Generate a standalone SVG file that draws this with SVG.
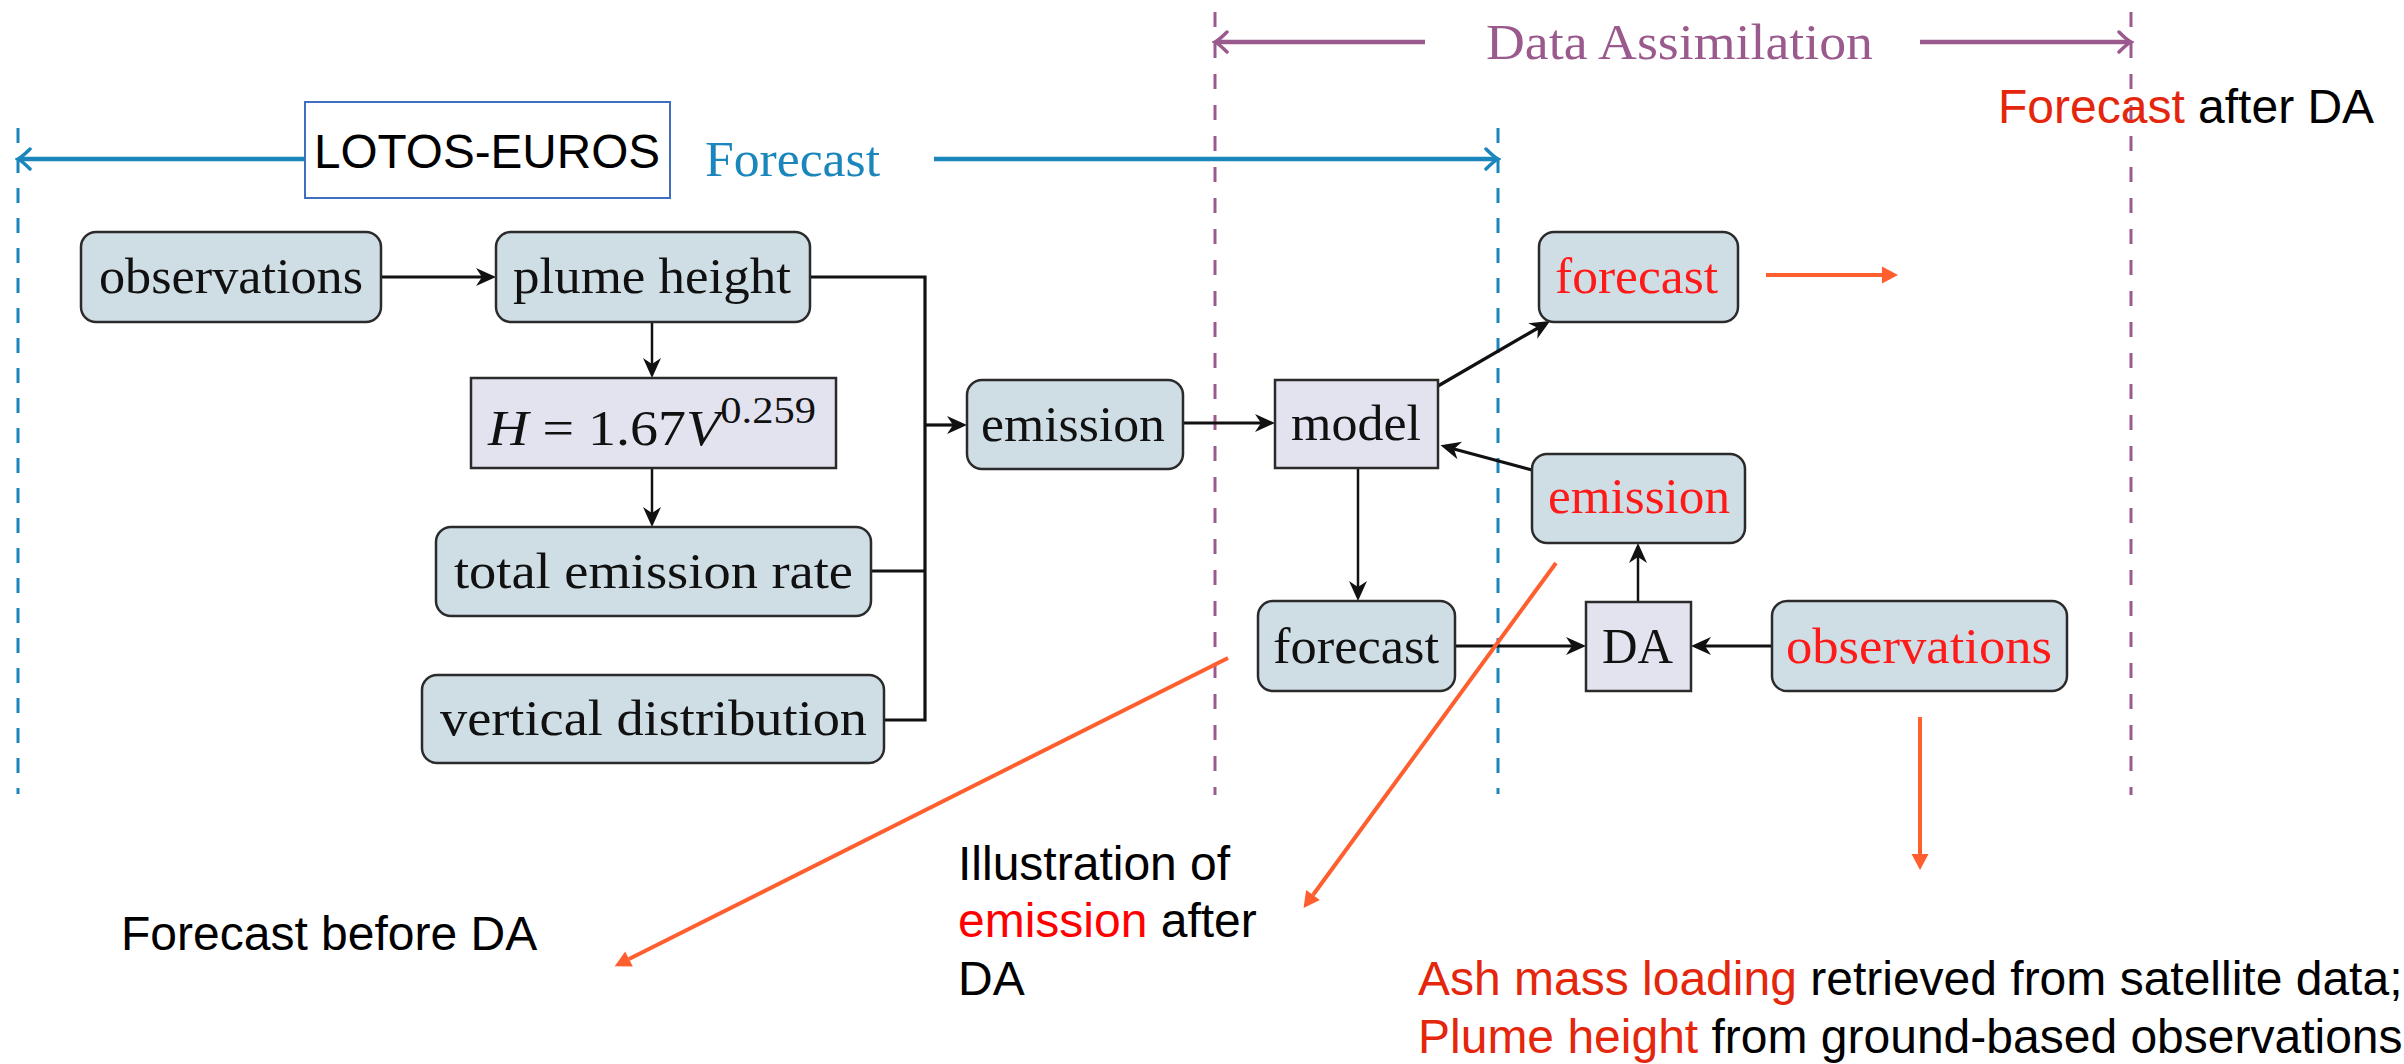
<svg xmlns="http://www.w3.org/2000/svg" width="2404" height="1064" viewBox="0 0 2404 1064">
<style>
.node{fill:#CFDDE5;stroke:#2b2b2b;stroke-width:2.5}
.lav{fill:#E3E3F0;stroke:#2b2b2b;stroke-width:2.5}
.lbl{font-family:"Liberation Serif","Times New Roman",serif;font-size:50px;fill:#111;text-anchor:start}
.red{fill:#FF1A1A}
.sans{font-family:"Liberation Sans",Arial,sans-serif;font-size:48px;fill:#000}
.ored{fill:#E3260C}
.conn{fill:none;stroke:#111;stroke-width:3.2}
.thin{fill:none;stroke:#111;stroke-width:2.5}
.orange{fill:none;stroke:#FF5F2E;stroke-width:4}
.bdash{stroke:#1A86BC;stroke-width:3;stroke-dasharray:15 15;fill:none}
.pdash{stroke:#9A5A8E;stroke-width:3;stroke-dasharray:15 16;fill:none}
</style>
<defs>
<marker id="toBlue" viewBox="-14 -12 18 24" refX="0" refY="0" markerWidth="18" markerHeight="24" markerUnits="userSpaceOnUse" orient="auto-start-reverse">
<path d="M-11,-10 Q-3,-2 1,0 Q-3,2 -11,10" fill="none" stroke="#1A86BC" stroke-width="3.5" stroke-linecap="round"/>
</marker>
<marker id="toPurple" viewBox="-14 -12 18 24" refX="0" refY="0" markerWidth="18" markerHeight="24" markerUnits="userSpaceOnUse" orient="auto-start-reverse">
<path d="M-11,-10 Q-3,-2 1,0 Q-3,2 -11,10" fill="none" stroke="#9A5A8E" stroke-width="3.5" stroke-linecap="round"/>
</marker>
<marker id="blk" viewBox="-7 -10 22 20" refX="0" refY="0" markerWidth="22" markerHeight="20" markerUnits="userSpaceOnUse" orient="auto">
<path d="M14,0 L-6,-9 L0,0 L-6,9 Z" fill="#111"/>
</marker>
<marker id="org" viewBox="-1 -10 18 20" refX="0" refY="0" markerWidth="18" markerHeight="20" markerUnits="userSpaceOnUse" orient="auto">
<path d="M0,-8.5 L16,0 L0,8.5 Z" fill="#FF5F2E"/>
</marker>
</defs>

<g id="guides">
<line class="bdash" x1="18" y1="128" x2="18" y2="794"/>
<line class="bdash" x1="1498" y1="128" x2="1498" y2="794"/>
<line class="pdash" x1="1215" y1="12" x2="1215" y2="795"/>
<line class="pdash" x1="2131" y1="12" x2="2131" y2="795"/>
<line x1="305" y1="159" x2="19" y2="159" stroke="#1A86BC" stroke-width="4.5" marker-end="url(#toBlue)"/>
<line x1="934" y1="159" x2="1497" y2="159" stroke="#1A86BC" stroke-width="4.5" marker-end="url(#toBlue)"/>
<line x1="1425" y1="42" x2="1216" y2="42" stroke="#9A5A8E" stroke-width="4.5" marker-end="url(#toPurple)"/>
<line x1="1920" y1="42" x2="2130" y2="42" stroke="#9A5A8E" stroke-width="4.5" marker-end="url(#toPurple)"/>
<text x="705" y="176" font-family="Liberation Serif, serif" font-size="50" fill="#1A86BC" textLength="175" lengthAdjust="spacingAndGlyphs">Forecast</text>
<text x="1486" y="59" font-family="Liberation Serif, serif" font-size="51" fill="#9A5A8E" textLength="387" lengthAdjust="spacingAndGlyphs">Data Assimilation</text>
</g>

<g id="lotos-euros">
<rect x="305" y="102" width="365" height="96" fill="#fff" stroke="#3F6FC0" stroke-width="2"/>
<text class="sans" x="314" y="168" textLength="346" lengthAdjust="spacingAndGlyphs">LOTOS-EUROS</text>
</g>

<g id="connectors">
<line class="conn" x1="381" y1="277" x2="482" y2="277" stroke-width="3.8" marker-end="url(#blk)"/>
<line class="thin" x1="652" y1="322" x2="652" y2="364" marker-end="url(#blk)"/>
<line class="thin" x1="652" y1="468" x2="652" y2="513" marker-end="url(#blk)"/>
<path class="conn" d="M810,277 H925 V720 H884 M871,571 H925"/>
<line class="conn" x1="925" y1="425" x2="953" y2="425" marker-end="url(#blk)"/>
<line class="conn" x1="1183" y1="423" x2="1261" y2="423" stroke-width="3.8" marker-end="url(#blk)"/>
<line class="conn" x1="1438" y1="386" x2="1538" y2="328" marker-end="url(#blk)"/>
<line class="conn" x1="1532" y1="470" x2="1454" y2="449" marker-end="url(#blk)"/>
<line class="thin" x1="1358" y1="468" x2="1358" y2="587" marker-end="url(#blk)"/>
<line class="conn" x1="1455" y1="646" x2="1572" y2="646" stroke-width="3.8" marker-end="url(#blk)"/>
<line class="conn" x1="1772" y1="646" x2="1705" y2="646" stroke-width="3.8" marker-end="url(#blk)"/>
<line class="thin" x1="1638" y1="602" x2="1638" y2="557" marker-end="url(#blk)"/>
</g>

<g id="n-observations"><rect class="node" x="81" y="232" width="300" height="90" rx="15"/><text class="lbl" x="99" y="293" textLength="264" lengthAdjust="spacingAndGlyphs">observations</text></g>
<g id="n-plume-height"><rect class="node" x="496" y="232" width="314" height="90" rx="15"/><text class="lbl" x="513" y="293" textLength="278" lengthAdjust="spacingAndGlyphs">plume height</text></g>
<g id="n-formula"><rect class="lav" x="471" y="378" width="365" height="90"/>
<text class="lbl" x="488" y="445" font-size="54" textLength="328" lengthAdjust="spacingAndGlyphs"><tspan font-style="italic">H</tspan> = 1.67<tspan font-style="italic">V</tspan><tspan dy="-22" font-size="38">0.259</tspan></text></g>
<g id="n-total-emission-rate"><rect class="node" x="436" y="527" width="435" height="89" rx="15"/><text class="lbl" x="454" y="588" textLength="399" lengthAdjust="spacingAndGlyphs">total emission rate</text></g>
<g id="n-vertical-distribution"><rect class="node" x="422" y="675" width="462" height="88" rx="15"/><text class="lbl" x="440" y="735" textLength="427" lengthAdjust="spacingAndGlyphs">vertical distribution</text></g>
<g id="n-emission"><rect class="node" x="967" y="380" width="216" height="89" rx="15"/><text class="lbl" x="981" y="441" textLength="184" lengthAdjust="spacingAndGlyphs">emission</text></g>
<g id="n-model"><rect class="lav" x="1275" y="380" width="163" height="88"/><text class="lbl" x="1291" y="440" textLength="130" lengthAdjust="spacingAndGlyphs">model</text></g>
<g id="n-forecast-da"><rect class="node" x="1539" y="232" width="199" height="90" rx="15"/><text class="lbl red" x="1555" y="293" textLength="163" lengthAdjust="spacingAndGlyphs">forecast</text></g>
<g id="n-emission-da"><rect class="node" x="1532" y="454" width="213" height="89" rx="15"/><text class="lbl red" x="1548" y="513" textLength="182" lengthAdjust="spacingAndGlyphs">emission</text></g>
<g id="n-forecast"><rect class="node" x="1258" y="601" width="197" height="90" rx="15"/><text class="lbl" x="1273" y="663" textLength="166" lengthAdjust="spacingAndGlyphs">forecast</text></g>
<g id="n-da"><rect class="lav" x="1586" y="602" width="105" height="89"/><text class="lbl" x="1602" y="663" textLength="71" lengthAdjust="spacingAndGlyphs">DA</text></g>
<g id="n-observations-da"><rect class="node" x="1772" y="601" width="295" height="90" rx="15"/><text class="lbl red" x="1786" y="663" textLength="266" lengthAdjust="spacingAndGlyphs">observations</text></g>

<g id="annotations">
<line class="orange" x1="1766" y1="275" x2="1882" y2="275" marker-end="url(#org)"/>
<line class="orange" x1="1228" y1="658" x2="629" y2="959" marker-end="url(#org)"/>
<line class="orange" x1="1556" y1="563" x2="1313" y2="895" stroke-width="3" marker-end="url(#org)"/>
<line class="orange" x1="1920" y1="717" x2="1920" y2="854" stroke-width="3" marker-end="url(#org)"/>
<text class="sans" x="1998" y="123"><tspan class="ored">Forecast</tspan> after DA</text>
<text class="sans" x="121" y="950">Forecast before DA</text>
<text class="sans" x="958" y="880">Illustration of</text>
<text class="sans" x="958" y="937"><tspan fill="#FF0000">emission</tspan> after</text>
<text class="sans" x="958" y="995">DA</text>
<text class="sans" x="1418" y="995"><tspan class="ored">Ash mass loading</tspan> retrieved from satellite data;</text>
<text class="sans" x="1418" y="1053"><tspan class="ored">Plume height</tspan> from ground-based observations</text>
</g>
</svg>
